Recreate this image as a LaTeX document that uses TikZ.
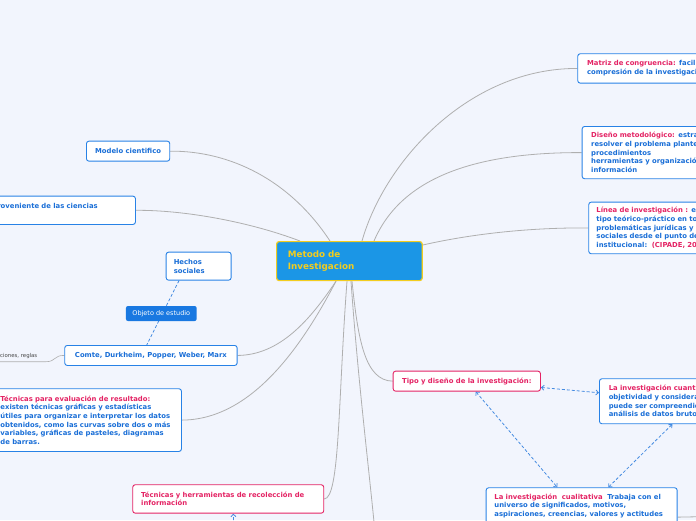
\documentclass[tikz,border=0pt]{standalone}
\usepackage{fontspec}
\setmainfont{DejaVu Sans}
\usetikzlibrary{arrows.meta}
\definecolor{bgc}{RGB}{242,245,253}
\definecolor{centralc}{RGB}{27,150,230}
\definecolor{yellowc}{RGB}{243,205,30}
\definecolor{boxblue}{RGB}{40,130,230}
\definecolor{txtblue}{RGB}{25,110,215}
\definecolor{pinkc}{RGB}{228,35,100}
\definecolor{linegray}{RGB}{175,175,175}
\definecolor{relblue}{RGB}{70,140,225}
\definecolor{objfill}{RGB}{25,120,225}
\definecolor{smallgray}{RGB}{70,70,70}
\newcommand\mmfont{\fontsize{6.85}{8.7}\selectfont\bfseries}
\newcommand\mmtitle{\fontsize{8.8}{11.6}\selectfont\bfseries}
\newcommand\mmsmall{\fontsize{6.5}{8}\selectfont}
\newcommand\mmtiny{\fontsize{5.4}{6.5}\selectfont}
\pgfdeclarelayer{back}
\pgfdeclarelayer{lines}
\pgfsetlayers{back,lines,main}
\begin{document}
\begin{tikzpicture}[x=1pt,y=-1pt,
  bbox/.style={draw=boxblue, fill=white, line width=0.9pt, rounded corners=2.5pt,
    anchor=north west, inner ysep=0pt, align=left, font=\mmfont, text=txtblue},
  pbox/.style={bbox, draw=pinkc, text=pinkc},
  centralbox/.style={draw=yellowc, fill=centralc, line width=1.2pt, rounded corners=2.5pt,
    anchor=north west, inner ysep=0pt, align=left, font=\mmtitle, text=yellowc},
  objlab/.style={fill=objfill, rounded corners=2pt, text=white, font=\mmsmall,
    minimum width=70.7pt, minimum height=15pt, inner sep=0pt},
  conn/.style={draw=linegray, line width=0.8pt},
  thinconn/.style={draw=linegray, line width=0.6pt},
  reltip/.tip={Straight Barb[length=2.6pt,width=5pt]},
  rel/.style={draw=relblue, line width=0.8pt, dash pattern=on 3pt off 2pt, reltip-reltip},
  relone/.style={draw=relblue, line width=0.8pt, dash pattern=on 3pt off 2pt, -reltip},
  reldash/.style={draw=relblue, line width=0.8pt, dash pattern=on 3pt off 2pt}
]
\useasboundingbox (0,0) rectangle (696,520);
\begin{pgfonlayer}{back}
\fill[bgc] (0,0) rectangle (696,520);
\end{pgfonlayer}
\clip (0,0) rectangle (696,520);

% central topic
\node[centralbox, text width=123pt, inner xsep=11.3pt, minimum height=39pt] (central) at (276,241)
  {Metodo de\\Investigacion};

% right side
\node[bbox, text width=200pt, inner xsep=9.4pt, minimum height=29.4pt] (matriz) at (577.3,53.3)
  {\textcolor{pinkc}{Matriz de congruencia:} facilita la\\compresión de la investigación};
\node[bbox, text width=200pt, inner xsep=9pt, minimum height=52.3pt] (diseno) at (581.7,126)
  {\textcolor{pinkc}{Diseño metodológico:} estrategia para\\resolver el problema planteado:\\procedimientos\\herramientas y organización de la\\información};
\node[bbox, text width=200pt, inner xsep=7.7pt, minimum height=51.6pt] (linea) at (588.3,201.7)
  {\textcolor{pinkc}{Línea de investigación :} es un eje de\\tipo teórico-práctico en torno a\\problemáticas jurídicas y\\sociales desde el punto de vista\\institucional:~~\textcolor{pinkc}{(CIPADE, 2016)}};

% left side
\node[bbox, minimum width=83.3pt, minimum height=20pt, inner xsep=0pt] (modelo) at (86,140.7)
  {Modelo cientifico};
\node[bbox, text width=190pt, inner xsep=8pt, minimum height=28.3pt] (prov) at (-71,195.7)
  {\mbox{Conocimiento proveniente de las ciencias}\\\mbox{}};
\node[bbox, text width=49.8pt, inner xsep=7.6pt, minimum height=28pt] (hechos) at (165.7,251.7)
  {\mbox{Hechos}\\\mbox{sociales}};
\node[bbox, minimum width=172.4pt, minimum height=20pt, inner xsep=0pt] (comte) at (64.3,345)
  {Comte, Durkheim, Popper, Weber, Marx};
\node[anchor=base east, inner sep=0pt, font=\mmtiny, text=smallgray] (leyes) at (37.5,357.6)
  {Leyes, teorías, explicaciones, reglas};
\coordinate (ulstart) at (-5,361.7);
\coordinate (ulend) at (46,361.7);
\node[bbox, text width=173pt, inner xsep=8pt, minimum height=62.7pt] (teval) at (-8,388.3)
  {\mbox{\textcolor{pinkc}{Técnicas para evaluación de resultado:}}\\
   \mbox{existen técnicas gráficas y estadísticas}\\
   \mbox{útiles para organizar e interpretar los datos}\\
   \mbox{obtenidos, como las curvas sobre dos o más}\\
   \mbox{variables, gráficas de pasteles, diagramas}\\
   \mbox{de barras.}};
\node[pbox, text width=174.2pt, inner xsep=8.4pt, minimum height=28.4pt] (recol) at (132.3,484.3)
  {\mbox{Técnicas y herramientas de recolección de}\\\mbox{información}};
\coordinate (recolsrc) at (234.5,545);

% bottom right
\node[pbox, minimum width=147.3pt, minimum height=20pt, inner xsep=0pt] (tipo) at (392.7,370.7)
  {Tipo y diseño de la investigación:};
\node[bbox, text width=200pt, inner xsep=9.3pt, minimum height=45pt] (cuant) at (599,378.3)
  {\textcolor{pinkc}{La investigación cuantitativa:} busca la\\objetividad y considera que la realidad\\puede ser compreendida por el\\análisis de datos brutos};
\node[bbox, text width=174.4pt, inner xsep=8.3pt, minimum height=36pt] (cualit) at (485.7,487.3)
  {\mbox{\textcolor{pinkc}{La investigación~ cualitativa}~ Trabaja con el}\\
   \mbox{universo de significados, motivos,}\\
   \mbox{aspiraciones, creencias, valores y actitudes}};
\coordinate (cualitchild) at (700,516.7);
\coordinate (downend) at (375,532);

\begin{pgfonlayer}{lines}
\clip (0,0) rectangle (696,520);
% main connectors
\draw[conn] ([xshift=86pt]central.north west) .. controls (385,160) and (470,68) .. (matriz.west);
\draw[conn] ([xshift=98pt]central.north west) .. controls (400,180) and (470,152.2) .. (diseno.west);
\draw[conn] ([yshift=-4pt]central.north east) .. controls (480,232) and (540,227.5) .. (linea.west);
\draw[conn] ([xshift=54pt]central.north west) .. controls (290,180) and (230,150.7) .. (modelo.east);
\draw[conn] ([xshift=24pt]central.north west) .. controls (250,222) and (185,210) .. (prov.east);
\draw[conn] ([xshift=60pt]central.south west) .. controls (310,320) and (280,355) .. (comte.east);
\draw[conn] ([xshift=60pt]central.south west) .. controls (300,350) and (250,419.7) .. (teval.east);
\draw[conn] ([xshift=71pt]central.south west) .. controls (338,400) and (340,498.5) .. (recol.east);
\draw[conn] ([xshift=76pt]central.south west) .. controls (358,340) and (365,380.7) .. (tipo.west);
\draw[conn] ([xshift=75pt]central.south west) .. controls (358,380) and (368,460) .. (downend);
% sub connectors
\draw[thinconn] (ulstart) -- (ulend) .. controls (56,361.7) and (54,355) .. (comte.west);
\draw[conn] ([yshift=-11.4pt]cualit.east) -- (cualitchild);
% relations
\draw[reldash] ([xshift=13.3pt]hechos.south west) -- ([xshift=82.4pt]comte.north west);
\draw[rel] ([yshift=-6.3pt]tipo.east) -- ([yshift=8.5pt]cuant.west);
\draw[rel] ([xshift=83pt]tipo.south west) -- ([xshift=71.6pt]cualit.north west);
\draw[rel] ([xshift=73.3pt]cuant.south west) -- ([xshift=122.6pt]cualit.north west);
\draw[relone] (recolsrc) -- ([xshift=101pt]recol.south west);
\end{pgfonlayer}

\node[objlab] (objeto) at (161.3,313.5) {Objeto de estudio};
\end{tikzpicture}
\end{document}
